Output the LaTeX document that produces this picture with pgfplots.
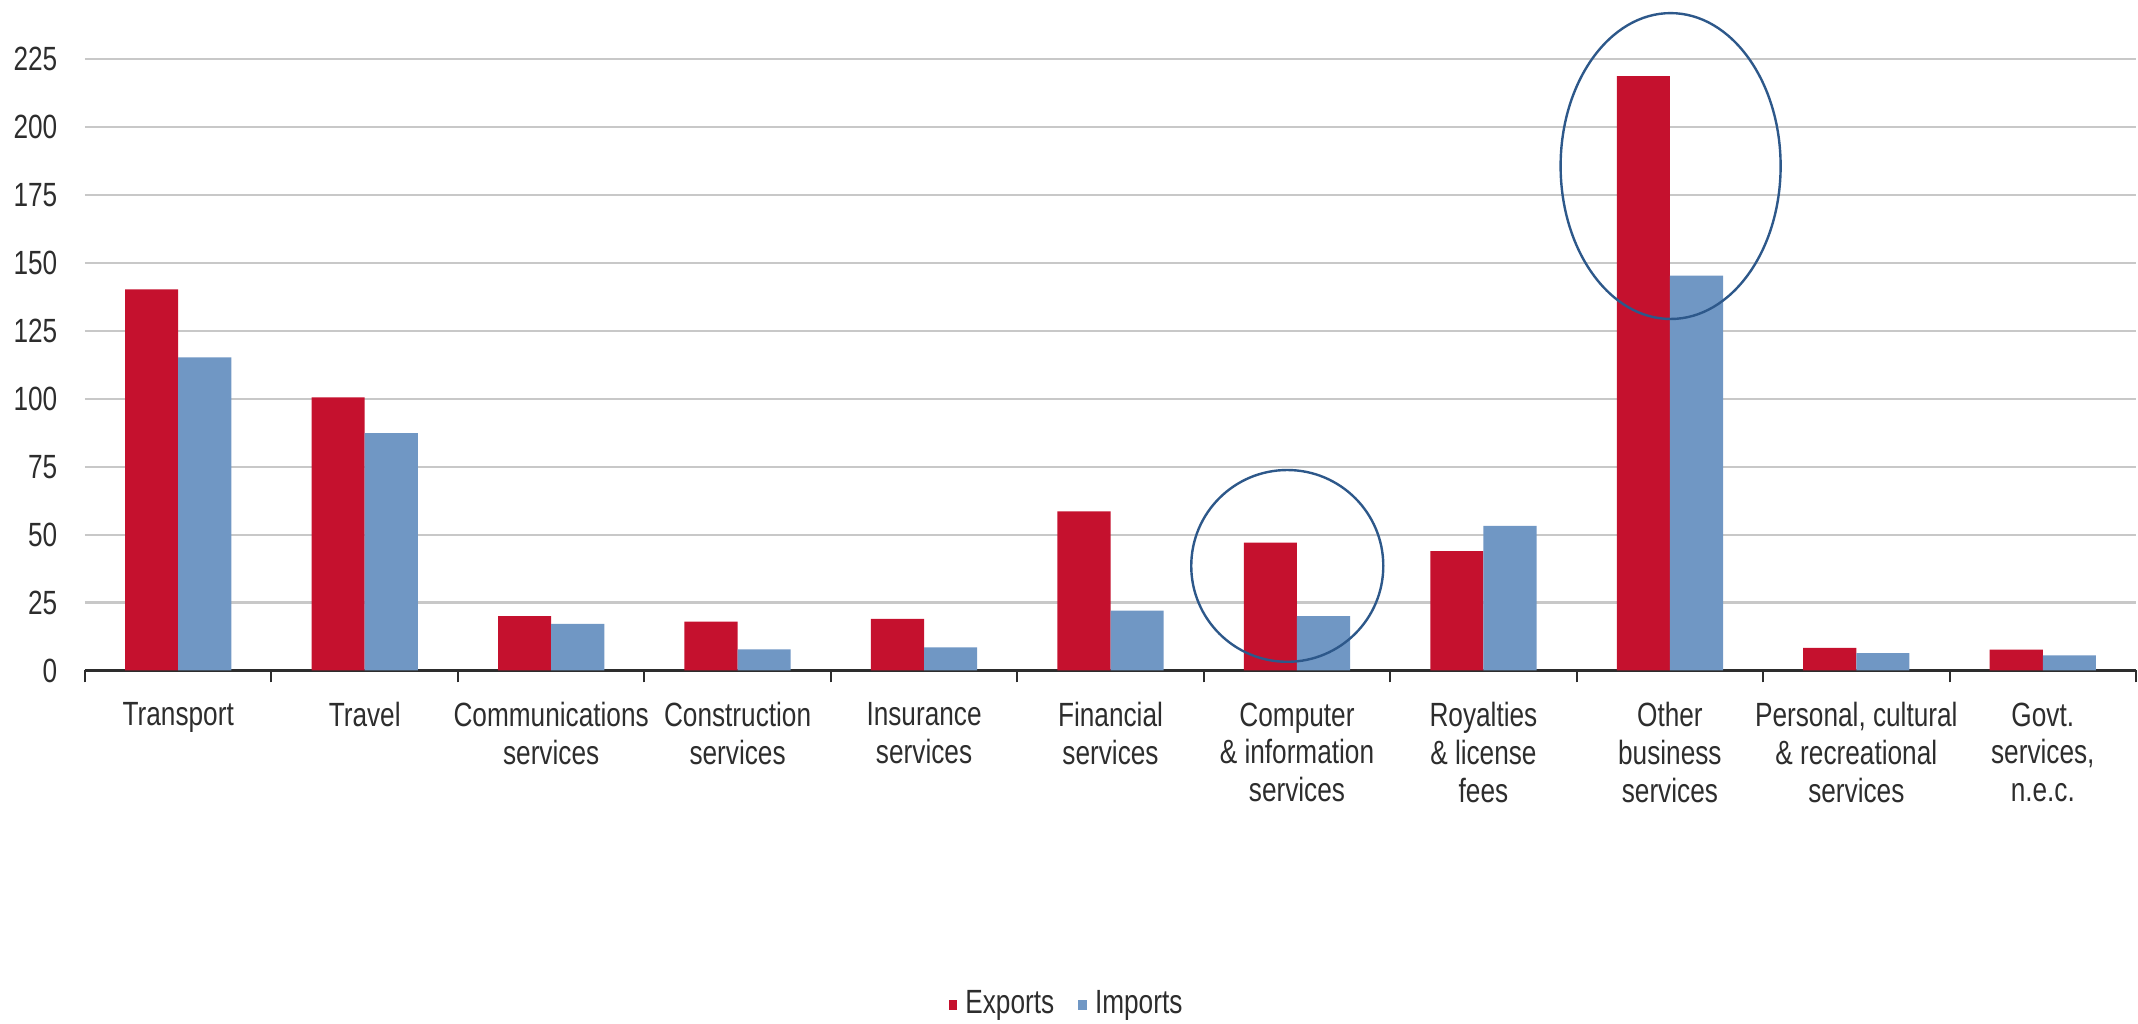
\documentclass[border=0pt]{standalone}
\usepackage{fontspec}
\setmainfont{Liberation Sans}[FakeStretch=0.78]
\usepackage{pgfplots}
\pgfplotsset{compat=1.18}
\definecolor{expc}{RGB}{197,17,46}
\definecolor{impc}{RGB}{112,151,196}
\definecolor{gridc}{RGB}{200,200,200}
\definecolor{txtc}{RGB}{45,45,45}
\definecolor{ellc}{RGB}{45,88,138}
\begin{document}
\begin{tikzpicture}
\begin{axis}[
  at={(0,0)}, anchor=south west,
  scale only axis,
  width=512.75pt, height=152.8pt,
  xmin=0, xmax=11, ymin=0, ymax=225,
  enlargelimits=false,
  clip=false,
  ybar=0pt, bar width=0.285,
  axis x line*=bottom, axis y line*=left,
  y axis line style={draw=none},
  x axis line style={draw=txtc, line width=0.7pt},
  ytick={0,25,...,225},
  ymajorgrids, grid style={gridc, line width=0.55pt},
  xtick={0.5,1.5,...,10.5},
  minor xtick={0,1,...,11},
  major tick length=0pt, minor tick length=3pt,
  tick align=outside,
  minor x tick style={draw=txtc, line width=0.5pt},
  ytick style={draw=none},
  /pgf/number format/assume math mode=true,
  tick label style={font=\fontsize{8.4}{9.4}\selectfont, text=txtc},
  yticklabel style={xshift=-3.4pt},
  xticklabel style={align=center, yshift=-4.5pt},
  xticklabels={Transport, Travel, Communications\\services, Construction\\services, Insurance\\services, Financial\\services, Computer\\\& information\\services, Royalties\\\& license\\fees, Other\\business\\services, {Personal, cultural\\\& recreational\\services}, {Govt.\\services,\\n.e.c.}},
  legend style={at={(0.48,-0.547)}, anchor=center, draw=none, fill=none,
    legend columns=2, font=\fontsize{8.4}{9.4}\selectfont, text=txtc,
    /tikz/every even column/.append style={column sep=4pt},
    inner sep=0pt},
  legend image code/.code={\fill[#1] (0.4pt,-1.2pt) rectangle (2.6pt,1.2pt);},
]
\addplot[fill=expc, draw=none] coordinates {(0.5,140.3) (1.5,100.5) (2.5,20.0) (3.5,18.0) (4.5,19.0) (5.5,58.6) (6.5,47.1) (7.5,43.9) (8.5,218.8) (9.5,8.3) (10.5,7.7)};
\addplot[fill=impc, draw=none] coordinates {(0.5,115.3) (1.5,87.4) (2.5,17.2) (3.5,7.8) (4.5,8.5) (5.5,22.0) (6.5,20.0) (7.5,53.2) (8.5,145.4) (9.5,6.4) (10.5,5.6)};
\legend{Exports, Imports}
\draw[ellc, line width=0.6pt] (axis cs:8.504,185.7) ellipse [x radius=0.59, y radius=56.3];
\draw[ellc, line width=0.6pt] (axis cs:6.448,38.5) ellipse [x radius=0.515, y radius=35.3];
\end{axis}
\pgfresetboundingbox
\useasboundingbox (-21.25pt,-88.375pt) rectangle (513.25pt,167.625pt);
\end{tikzpicture}
\end{document}
